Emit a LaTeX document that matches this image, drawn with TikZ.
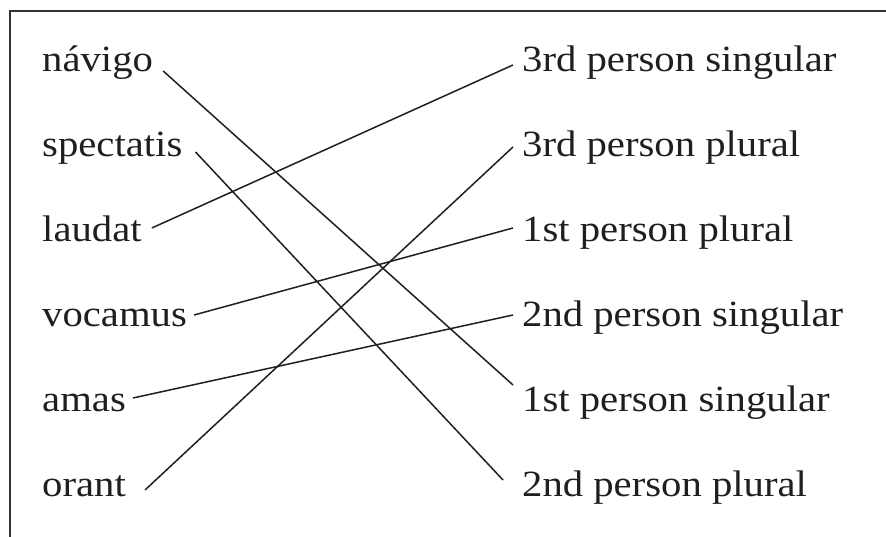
\documentclass[tikz,border=0pt]{standalone}
\usepackage{fontspec}
\setmainfont{Liberation Serif}[FakeStretch=1.1]
\tikzset{
  word/.style={anchor=base west, inner sep=0pt, font=\fontsize{37}{44}\selectfont, text=black!88},
  link/.style={line width=1.5pt, draw=black!88},
  frame/.style={line width=2.8pt, draw=black!80}
}
\begin{document}
\begin{tikzpicture}[x=1pt,y=1pt]
\useasboundingbox (0,0) rectangle (886,537);
\draw[frame] (10,0) -- (10,526) -- (886,526);
% left words (baselines at image y 72,157,242,327,412,497)
\node[word] (navigo) at (42,465) {návigo};
\node[word] (spectatis) at (42,380) {spectatis};
\node[word] (laudat) at (42,295) {laudat};
\node[word] (vocamus) at (42,210) {vocamus};
\node[word] (amas) at (42,125) {amas};
\node[word] (orant) at (42,40) {orant};
% right labels
\node[word] (tsg) at (522,465) {3rd person singular};
\node[word] (tpl) at (522,380) {3rd person plural};
\node[word] (fpl) at (522,295) {1st person plural};
\node[word] (ssg) at (522,210) {2nd person singular};
\node[word] (fsg) at (522,125) {1st person singular};
\node[word] (spl) at (522,40) {2nd person plural};
% connectors
\draw[link] ([shift={(10pt,1pt)}]navigo.base east) -- ([shift={(-9pt,27pt)}]fsg.base west);
\draw[link] ([shift={(13pt,5pt)}]spectatis.base east) -- ([shift={(-19pt,17pt)}]spl.base west);
\draw[link] ([shift={(10pt,14pt)}]laudat.base east) -- ([shift={(-9pt,7pt)}]tsg.base west);
\draw[link] ([shift={(7pt,12pt)}]vocamus.base east) -- ([shift={(-9pt,14pt)}]fpl.base west);
\draw[link] ([shift={(7pt,14pt)}]amas.base east) -- ([shift={(-9pt,12pt)}]ssg.base west);
\draw[link] ([shift={(19pt,7pt)}]orant.base east) -- ([shift={(-9pt,10pt)}]tpl.base west);
\end{tikzpicture}
\end{document}
